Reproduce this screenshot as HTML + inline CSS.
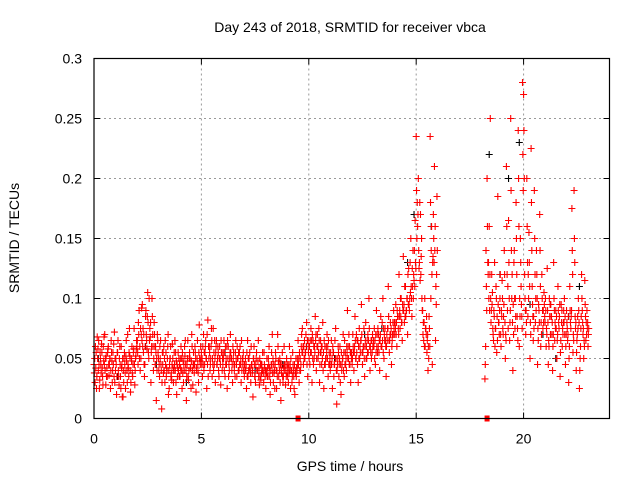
<!DOCTYPE html>
<html><head><meta charset="utf-8"><style>
body{margin:0;background:#fff}
svg{display:block;font-family:"Liberation Sans",sans-serif}
</style></head><body>
<svg id="chart" width="640" height="480">
<rect width="640" height="480" fill="#fff"/>
<g id="grid"></g>
<g id="ticks"></g>
<g id="marks"></g>
<rect x="94" y="58.5" width="515.5" height="360" fill="none" stroke="#000" stroke-width="1.2"/>
<text x="350" y="32" font-size="14" text-anchor="middle">Day 243 of 2018, SRMTID for receiver vbca</text>
<text x="350" y="471" font-size="14" text-anchor="middle">GPS time / hours</text>
<text transform="translate(19,238) rotate(-90)" font-size="14" text-anchor="middle">SRMTID / TECUs</text>
</svg>
<script>
const xTicks=[0,5,10,15,20];
const yTicks=[0,0.05,0.1,0.15,0.2,0.25,0.3];
const yTickLabels=["0","0.05","0.1","0.15","0.2","0.25","0.3"];
const sampleInterval=0.05;
const dayStart=0;
const lateStart=18.2;
const srmtidDay=[0.045,0.03,0.055,0.068,0.04,0.025,0.05,0.062,0.035,0.048,0.07,0.028,0.042,0.058,0.036,0.05,0.065,0.03,0.045,0.072,
0.04,0.02,0.055,0.035,0.06,0.025,0.045,0.018,0.05,0.038,0.065,0.03,0.042,0.075,0.022,0.048,0.035,0.058,0.028,0.052,
0.06,0.045,0.09,0.04,0.07,0.095,0.055,0.035,0.085,0.065,0.105,0.05,0.075,0.03,0.1,0.06,0.08,0.045,0.015,0.07,
0.05,0.035,0.065,0.008,0.045,0.06,0.03,0.055,0.04,0.07,0.025,0.05,0.038,0.062,0.03,0.045,0.055,0.02,0.042,0.05,
0.035,0.06,0.025,0.048,0.04,0.065,0.015,0.05,0.032,0.055,0.042,0.07,0.028,0.045,0.06,0.022,0.05,0.038,0.078,0.045,
0.055,0.035,0.07,0.045,0.065,0.025,0.082,0.05,0.04,0.06,0.035,0.075,0.045,0.03,0.065,0.05,0.04,0.06,0.028,0.055,
0.045,0.065,0.035,0.05,0.025,0.06,0.04,0.07,0.05,0.03,0.055,0.045,0.065,0.035,0.05,0.04,0.06,0.03,0.045,0.055,
0.035,0.05,0.025,0.065,0.04,0.055,0.03,0.045,0.018,0.06,0.035,0.05,0.04,0.065,0.028,0.045,0.038,0.055,0.03,0.042,
0.025,0.05,0.035,0.06,0.02,0.045,0.07,0.03,0.04,0.055,0.025,0.07,0.035,0.05,0.015,0.045,0.03,0.06,0.04,0.035,
0.045,0.03,0.06,0.025,0.04,0.055,0.035,0.02,0.05,0.04,0.065,0.03,0.05,0.06,0.075,0.045,0.065,0.055,0.08,0.035,
0.06,0.045,0.075,0.03,0.065,0.05,0.085,0.04,0.07,0.055,0.03,0.065,0.045,0.08,0.025,0.06,0.05,0.07,0.035,0.055,
0.04,0.065,0.025,0.055,0.045,0.075,0.012,0.05,0.035,0.06,0.02,0.045,0.07,0.035,0.055,0.04,0.09,0.05,0.06,0.03,
0.055,0.07,0.04,0.085,0.05,0.065,0.03,0.075,0.055,0.095,0.045,0.06,0.035,0.08,0.05,0.07,0.1,0.04,0.065,0.055,
0.06,0.075,0.045,0.09,0.055,0.07,0.04,0.085,0.06,0.1,0.05,0.075,0.035,0.065,0.11,0.055,0.08,0.045,0.07,0.09,
0.07,0.095,0.06,0.085,0.12,0.075,0.1,0.065,0.135,0.08,0.11,0.09,0.07,0.125,0.1,0.15,0.085,0.14,0.115,0.165,
0.235,0.18,0.2,0.13,0.17,0.15,0.09,0.065,0.1,0.075,0.055,0.04,0.085,0.235,0.14,0.045,0.17,0.21,0.065,0.12];
const srmtidDayB=[0.038,0.06,0.025,0.05,0.065,0.032,0.045,0.055,0.028,0.068,0.04,0.052,0.035,0.06,0.045,0.025,0.055,0.04,0.062,0.03,
0.05,0.035,0.065,0.028,0.045,0.06,0.018,0.04,0.055,0.025,0.048,0.07,0.035,0.052,0.03,0.06,0.045,0.075,0.04,0.058,
0.065,0.08,0.05,0.075,0.092,0.06,0.07,0.045,0.09,0.058,0.08,0.1,0.068,0.055,0.085,0.04,0.07,0.06,0.05,0.065,
0.04,0.06,0.045,0.03,0.055,0.04,0.065,0.035,0.05,0.02,0.045,0.06,0.032,0.05,0.04,0.065,0.03,0.045,0.055,0.035,
0.05,0.04,0.055,0.03,0.06,0.045,0.035,0.065,0.04,0.05,0.025,0.06,0.045,0.038,0.055,0.042,0.065,0.03,0.05,0.06,
0.045,0.06,0.04,0.055,0.05,0.07,0.035,0.06,0.045,0.075,0.05,0.04,0.065,0.055,0.045,0.06,0.035,0.05,0.065,0.04,
0.055,0.04,0.06,0.045,0.065,0.035,0.05,0.055,0.04,0.06,0.045,0.035,0.05,0.06,0.04,0.055,0.045,0.065,0.05,0.04,
0.045,0.04,0.055,0.035,0.05,0.042,0.06,0.038,0.05,0.045,0.03,0.055,0.04,0.035,0.05,0.032,0.045,0.04,0.055,0.035,
0.04,0.035,0.05,0.042,0.03,0.055,0.038,0.045,0.025,0.05,0.04,0.06,0.045,0.03,0.04,0.055,0.035,0.045,0.028,0.05,
0.035,0.045,0.04,0.05,0.03,0.045,0.025,0.04,0.035,0.05,0.045,0.055,0.04,0.07,0.055,0.06,0.05,0.07,0.045,0.065,
0.05,0.065,0.055,0.07,0.045,0.06,0.065,0.05,0.06,0.075,0.045,0.055,0.06,0.04,0.065,0.045,0.06,0.05,0.065,0.045,
0.055,0.045,0.06,0.035,0.065,0.05,0.04,0.06,0.045,0.03,0.055,0.05,0.04,0.065,0.045,0.06,0.05,0.07,0.045,0.055,
0.045,0.06,0.055,0.065,0.07,0.045,0.06,0.05,0.065,0.07,0.055,0.075,0.06,0.05,0.065,0.055,0.075,0.06,0.05,0.07,
0.065,0.05,0.07,0.06,0.075,0.055,0.065,0.06,0.08,0.055,0.07,0.065,0.06,0.075,0.085,0.065,0.07,0.06,0.08,0.075,
0.08,0.07,0.09,0.075,0.085,0.1,0.08,0.095,0.09,0.11,0.085,0.1,0.12,0.095,0.13,0.11,0.125,0.1,0.14,0.13,
0.19,0.16,0.14,0.18,0.12,0.1,0.07,0.08,0.06,0.07,0.065,0.06,0.075,0.18,0.16,0.13,0.15,0.14,0.11,0.185];
const srmtidDayC=[0.05,0.042,0.035,0.058,0.045,0.055,0.038,0.042,0.06,0.045,0.05,0.035,0.055,0.045,0.05,0.04,0.048,0.055,0.035,0.05,
0.045,0.055,0.04,0.05,0.035,0.042,0.05,0.03,0.045,0.052,0.04,0.045,0.055,0.04,0.05,0.038,0.055,0.045,0.05,0.065,
0.055,0.07,0.06,0.05,0.065,0.075,0.045,0.06,0.07,0.085,0.055,0.065,0.08,0.06,0.07,0.05,0.06,0.055,0.04,0.055,
0.045,0.05,0.04,0.055,0.038,0.05,0.045,0.042,0.06,0.04,0.05,0.035,0.045,0.042,0.055,0.04,0.048,0.035,0.04,0.045,
0.042,0.05,0.038,0.045,0.052,0.04,0.045,0.035,0.05,0.042,0.048,0.04,0.055,0.045,0.05,0.04,0.045,0.055,0.048,0.05,
0.05,0.045,0.055,0.06,0.05,0.045,0.06,0.055,0.05,0.065,0.045,0.055,0.05,0.06,0.045,0.055,0.05,0.045,0.055,0.05,
0.05,0.055,0.045,0.06,0.05,0.045,0.055,0.05,0.045,0.05,0.04,0.055,0.045,0.05,0.055,0.045,0.05,0.04,0.05,0.045,
0.04,0.045,0.035,0.05,0.042,0.038,0.045,0.04,0.05,0.035,0.045,0.04,0.048,0.042,0.035,0.045,0.04,0.038,0.045,0.04,
0.038,0.042,0.045,0.035,0.04,0.045,0.05,0.038,0.045,0.04,0.035,0.048,0.04,0.045,0.038,0.035,0.042,0.04,0.045,0.038,
0.042,0.038,0.045,0.04,0.035,0.04,0.045,0.038,0.042,0.045,0.05,0.04,0.045,0.055,0.06,0.05,0.055,0.06,0.065,0.055,
0.06,0.055,0.065,0.05,0.06,0.055,0.07,0.06,0.05,0.065,0.055,0.06,0.05,0.055,0.045,0.05,0.055,0.06,0.045,0.05,
0.045,0.05,0.055,0.045,0.05,0.04,0.045,0.055,0.05,0.045,0.04,0.05,0.055,0.045,0.05,0.055,0.06,0.045,0.055,0.05,
0.05,0.055,0.06,0.05,0.055,0.065,0.05,0.06,0.065,0.055,0.06,0.05,0.065,0.06,0.055,0.065,0.06,0.055,0.065,0.06,
0.06,0.065,0.055,0.07,0.06,0.065,0.07,0.06,0.065,0.075,0.065,0.06,0.07,0.075,0.065,0.07,0.075,0.065,0.07,0.08,
0.075,0.08,0.085,0.07,0.09,0.085,0.08,0.09,0.095,0.085,0.09,0.1,0.095,0.09,0.105,0.1,0.11,0.12,0.11,0.125,
0.15,0.17,0.125,0.115,0.135,0.09,0.08,0.06,0.075,0.085,0.07,0.05,0.06,0.1,0.12,0.135,0.13,0.16,0.095,0.14];
const srmtidLate=[0.033,0.14,0.2,0.12,0.16,0.25,0.09,0.105,0.065,0.13,0.075,0.055,0.185,0.08,0.1,0.06,
0.115,0.07,0.14,0.05,0.21,0.09,0.165,0.065,0.25,0.1,0.04,0.13,0.075,0.18,0.085,0.24,0.06,0.15,0.095,0.28,
0.27,0.12,0.07,0.2,0.085,0.155,0.05,0.225,0.11,0.065,0.19,0.08,0.14,0.045,0.095,0.17,0.06,0.12,0.075,0.105,
0.08,0.06,0.125,0.045,0.1,0.07,0.085,0.04,0.13,0.065,0.09,0.05,0.11,0.075,0.035,0.095,0.06,0.08,0.1,0.045,
0.09,0.065,0.03,0.11,0.075,0.175,0.055,0.19,0.085,0.04,0.07,0.1,0.025,0.06,0.12,0.08,0.05,0.115,0.065,0.09,0.06];
const srmtidLateB=[0.045,0.11,0.16,0.13,0.09,0.1,0.12,0.075,0.09,0.06,0.11,0.085,0.095,0.07,0.12,0.09,
0.1,0.085,0.12,0.07,0.16,0.11,0.13,0.08,0.19,0.12,0.095,0.14,0.1,0.15,0.075,0.2,0.1,0.13,0.085,0.22,
0.24,0.1,0.09,0.16,0.12,0.13,0.08,0.18,0.095,0.085,0.15,0.1,0.12,0.075,0.09,0.14,0.08,0.1,0.09,0.095,
0.1,0.075,0.09,0.065,0.085,0.095,0.07,0.06,0.1,0.08,0.075,0.065,0.09,0.085,0.055,0.08,0.075,0.09,0.07,0.06,
0.08,0.07,0.05,0.09,0.085,0.14,0.07,0.15,0.075,0.055,0.085,0.09,0.04,0.075,0.1,0.07,0.065,0.095,0.08,0.075,0.07];
const srmtidLateC=[0.06,0.09,0.13,0.1,0.12,0.08,0.095,0.07,0.085,0.075,0.1,0.065,0.08,0.09,0.07,0.085,
0.075,0.095,0.08,0.065,0.12,0.075,0.1,0.09,0.14,0.08,0.07,0.1,0.085,0.12,0.065,0.16,0.085,0.11,0.075,0.19,
0.2,0.09,0.08,0.13,0.1,0.11,0.07,0.14,0.085,0.075,0.12,0.09,0.1,0.065,0.08,0.11,0.07,0.09,0.08,0.085,
0.09,0.07,0.08,0.06,0.095,0.085,0.08,0.07,0.09,0.075,0.085,0.07,0.08,0.095,0.065,0.09,0.07,0.08,0.085,0.07,
0.075,0.085,0.06,0.08,0.09,0.12,0.065,0.13,0.08,0.065,0.075,0.08,0.05,0.085,0.09,0.075,0.06,0.085,0.07,0.08,0.075];
const blackTimes=[0.2,1.1,2.4,2.9,4.3,6.1,7.5,8.8,9.9,11.2,12.6,13.4,14.6,14.9,15.7,18.4,18.9,19.3,19.8,20.3,20.9,21.5,22.1,22.6];
const blackValues=[0.05,0.035,0.06,0.045,0.03,0.055,0.04,0.045,0.06,0.05,0.07,0.075,0.13,0.17,0.16,0.22,0.12,0.2,0.23,0.095,0.07,0.05,0.085,0.11];
const zeroTimes=[9.5,18.3];

const X0=94,X1=609.5,Y0=418.5,Y1=58.5,XMAX=24,YMAX=0.3;
function xs(t){return X0+(X1-X0)*t/XMAX;}
function ys(v){return Y0-(Y0-Y1)*v/YMAX;}
const NS="http://www.w3.org/2000/svg";
function mk(tag,at,parent){const e=document.createElementNS(NS,tag);for(const k in at)e.setAttribute(k,at[k]);parent.appendChild(e);return e;}
const grid=document.getElementById('grid'),ticks=document.getElementById('ticks'),marks=document.getElementById('marks');
xTicks.forEach(t=>{
  const x=xs(t);
  if(t>0){const g=mk('line',{x1:x,x2:x,y1:Y1,y2:Y0,stroke:'#999','stroke-dasharray':'2,3'},grid);
  
  }
  mk('line',{x1:x,x2:x,y1:Y0,y2:Y0-6,stroke:'#000'},ticks);
  mk('line',{x1:x,x2:x,y1:Y1,y2:Y1+6,stroke:'#000'},ticks);
  const l=mk('text',{x:x,y:Y0+25,'font-size':14,'text-anchor':'middle'},ticks);
  l.textContent=String(t);
  
  
});
yTicks.forEach((v,i)=>{
  const y=ys(v);
  if(v>0&&v<YMAX){const g=mk('line',{x1:X0,x2:X1,y1:y,y2:y,stroke:'#999','stroke-dasharray':'2,3'},grid);
  
  }
  mk('line',{x1:X0,x2:X0+6,y1:y,y2:y,stroke:'#000'},ticks);
  mk('line',{x1:X1,x2:X1-6,y1:y,y2:y,stroke:'#000'},ticks);
  const l=mk('text',{x:X0-12,y:y+5,'font-size':14,'text-anchor':'end'},ticks);
  l.textContent=yTickLabels[i];
  
  
});
function plus(t,v,col){
  const x=xs(t),y=ys(v);
  const p=mk('path',{d:`M${x-3.5} ${y}H${x+3.5}M${x} ${y-3.5}V${y+3.5}`,stroke:col,'stroke-width':1.1,fill:'none'},marks);
  
  
}
blackTimes.forEach((t,i)=>plus(t,blackValues[i],'#000'));
const daySeries=[[srmtidDay,0],[srmtidDayB,0.017],[srmtidDayC,0.033]];
const lateSeries=[[srmtidLate,0],[srmtidLateB,0.017],[srmtidLateC,0.033]];
daySeries.forEach(([arr,off])=>arr.forEach((v,i)=>plus(dayStart+off+i*sampleInterval,v,'#f00')));
lateSeries.forEach(([arr,off])=>arr.forEach((v,i)=>plus(lateStart+off+i*sampleInterval,v,'#f00')));
zeroTimes.forEach(t=>{
  const r=mk('rect',{x:xs(t)-2.5,y:Y0-3,width:5,height:6,fill:'#f00'},marks);
  
  
});
</script>
</body></html>
